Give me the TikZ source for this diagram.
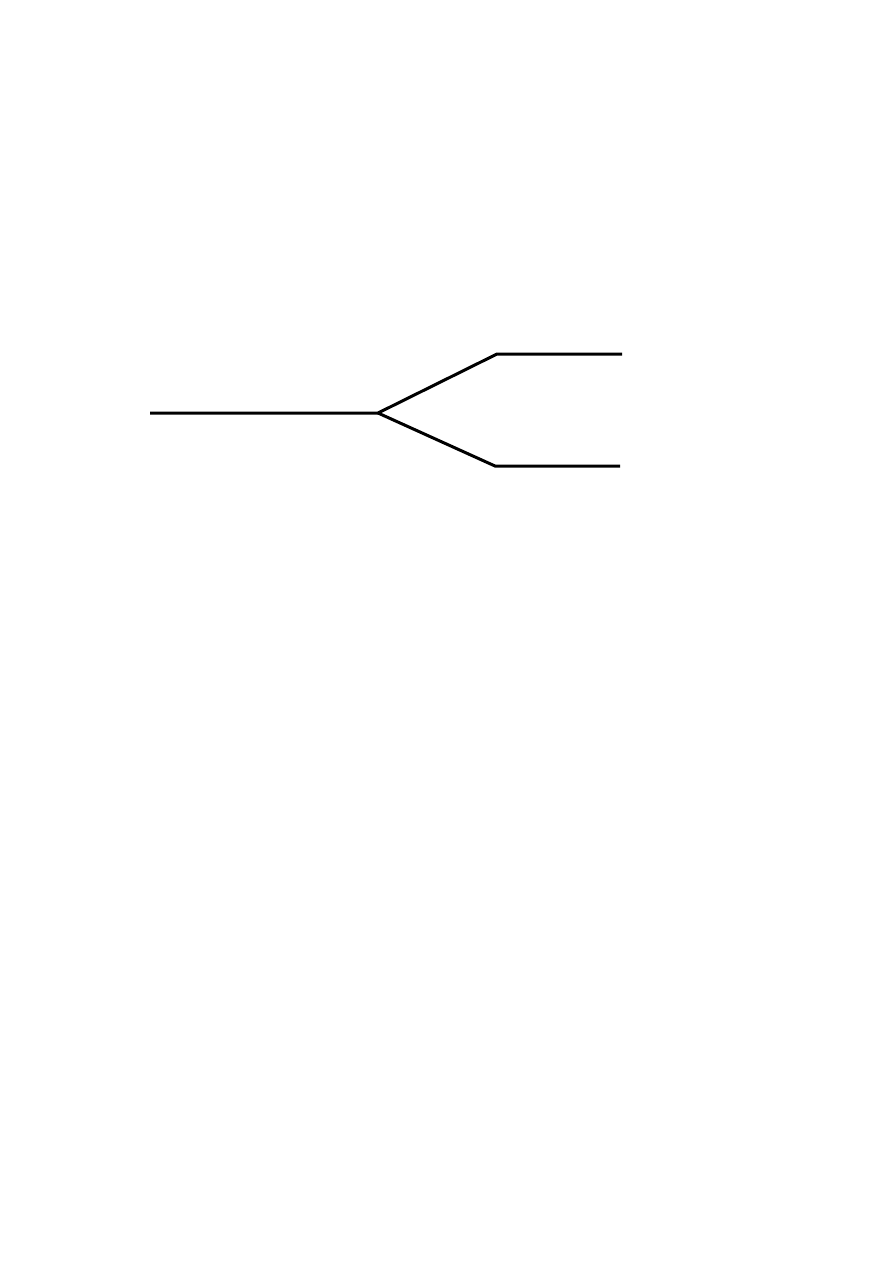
\documentclass[tikz,border=0pt]{standalone}
\usepackage{tikz}
\tikzset{
    wire/.style={draw, black, line width=3pt, line join=miter},
    canvas/.style={x=1pt, y=-1pt}
}

\begin{document}
\begin{tikzpicture}[canvas]
            \useasboundingbox (0,0) rectangle (893,1263);
            \coordinate (root) at (150,413);
            \coordinate (fork) at (378,413);
            \coordinate (upbend) at (497,354);
            \coordinate (upend) at (622,354);
            \coordinate (lowbend) at (495,466);
            \coordinate (lowend) at (620,466);

            \path[wire] (root) -- (fork) -- (upbend) -- (upend);
            \path[wire] (fork) -- (lowbend) -- (lowend);
        \end{tikzpicture}
\end{document}
